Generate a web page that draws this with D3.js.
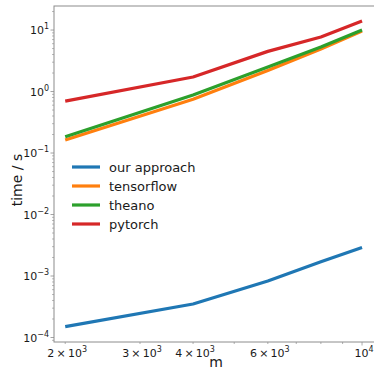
<!DOCTYPE html>
<html>
<head>
<meta charset="utf-8">
<script src="https://cdn.jsdelivr.net/npm/d3@7"></script>
<style>
  body { margin: 0; background: #fff; }
  text { font-family: "DejaVu Sans", sans-serif; fill: #1a1a1a; }
</style>
</head>
<body>
<div id="chart"></div>
<script>
// sizes m
var mValues = [2000, 4000, 6000, 8000, 10000];
// times in seconds
var ourApproach = [0.00015, 0.00035, 0.00083, 0.0017, 0.0029];
var tensorflow = [0.163, 0.75, 2.2, 4.9, 9.6];
var theano = [0.184, 0.88, 2.5, 5.3, 10.0];
var pytorch = [0.70, 1.72, 4.5, 7.7, 14.0];

var seriesNames = ["our approach", "tensorflow", "theano", "pytorch"];
var seriesColors = ["#1f77b4", "#ff7f0e", "#2ca02c", "#d62728"];

var xTickLabels = [[2, 3], [3, 3], [4, 3], [6, 3], [1, 4]];
var yTickExps = [-4, -3, -2, -1, 0, 1];

var W = 374, H = 370;
var margin = {left: 54, top: 6, right: -3, bottom: 28};

var svg = d3.select("#chart").append("svg")
  .attr("width", W).attr("height", H);

var x = d3.scaleLog().domain([1882, 10845])
  .range([margin.left, W - margin.right]);
var y = d3.scaleLog().domain([8.45e-5, 24.6])
  .range([H - margin.bottom, margin.top]);

var axisColor = "#8c8c8c";

// frame
svg.append("rect")
  .attr("x", margin.left).attr("y", margin.top)
  .attr("width", W - margin.right - margin.left)
  .attr("height", H - margin.bottom - margin.top)
  .attr("fill", "none").attr("stroke", axisColor).attr("stroke-width", 1);

// y ticks
var yMinor = [];
for (var e = -5; e <= 1; e++) {
  for (var k = 2; k <= 9; k++) {
    var v = k * Math.pow(10, e);
    if (v > y.domain()[0] && v < y.domain()[1]) yMinor.push(v);
  }
}
var yg = svg.append("g");
yg.selectAll("line.minor").data(yMinor).enter().append("line")
  .attr("x1", margin.left - 2).attr("x2", margin.left)
  .attr("y1", function(d){ return y(d); }).attr("y2", function(d){ return y(d); })
  .attr("stroke", axisColor).attr("stroke-width", 0.6);
yg.selectAll("line.major").data(yTickExps).enter().append("line")
  .attr("x1", margin.left - 3.5).attr("x2", margin.left)
  .attr("y1", function(d){ return y(Math.pow(10, d)); })
  .attr("y2", function(d){ return y(Math.pow(10, d)); })
  .attr("stroke", axisColor).attr("stroke-width", 0.8);
var yl = yg.selectAll("text").data(yTickExps).enter().append("text")
  .attr("x", margin.left - 5)
  .attr("y", function(d){ return y(Math.pow(10, d)) + 4; })
  .attr("text-anchor", "end")
  .style("font-size", "11px");
yl.append("tspan").text("10");
yl.append("tspan").attr("dy", -5).style("font-size", "8px")
  .text(function(d){ return d < 0 ? "\u2212" + (-d) : "" + d; });

// x ticks
var xMinor = [];
for (var k2 = 2; k2 <= 10; k2++) xMinor.push(k2 * 1000);
var xg = svg.append("g");
var yb = H - margin.bottom;
xg.selectAll("line.minor").data(xMinor).enter().append("line")
  .attr("x1", function(d){ return x(d); }).attr("x2", function(d){ return x(d); })
  .attr("y1", yb).attr("y2", function(d){ return yb + (d === 10000 ? 3.5 : 2); })
  .attr("stroke", axisColor).attr("stroke-width", 0.7);
var xl = xg.selectAll("text").data(xTickLabels).enter().append("text")
  .attr("x", function(d){ return x(d[0] * Math.pow(10, d[1])) + 2; })
  .attr("y", yb + 15)
  .attr("text-anchor", "middle")
  .style("font-size", "11px");
xl.append("tspan").text(function(d){ return d[0] === 1 ? "10" : d[0] + "\u2009\u00d7\u200910"; });
xl.append("tspan").attr("dy", -5).style("font-size", "8px")
  .text(function(d){ return d[1]; });

// axis labels
svg.append("text")
  .attr("x", 216).attr("y", H - 3)
  .attr("text-anchor", "middle").style("font-size", "14px").text("m");
svg.append("text")
  .attr("transform", "translate(22,180) rotate(-90)")
  .attr("text-anchor", "middle").style("font-size", "14px").text("time / s");

// lines
var allSeries = [ourApproach, tensorflow, theano, pytorch];
var line = d3.line()
  .x(function(d, i){ return x(mValues[i]); })
  .y(function(d){ return y(d); });
svg.append("g").selectAll("path").data(allSeries).enter().append("path")
  .attr("d", line)
  .attr("fill", "none")
  .attr("stroke", function(d, i){ return seriesColors[i]; })
  .attr("stroke-width", 3.2)
  .attr("stroke-linejoin", "round");

// legend
var lg = svg.append("g");
var legY = d3.scaleLinear().domain([0, 3]).range([167, 224]);
lg.selectAll("line").data(seriesNames).enter().append("line")
  .attr("x1", 72).attr("x2", 100)
  .attr("y1", function(d, i){ return legY(i); })
  .attr("y2", function(d, i){ return legY(i); })
  .attr("stroke", function(d, i){ return seriesColors[i]; })
  .attr("stroke-width", 3.2);
lg.selectAll("text").data(seriesNames).enter().append("text")
  .attr("x", 109)
  .attr("y", function(d, i){ return legY(i) + 5; })
  .style("font-size", "13px")
  .text(function(d){ return d; });
</script>
</body>
</html>
